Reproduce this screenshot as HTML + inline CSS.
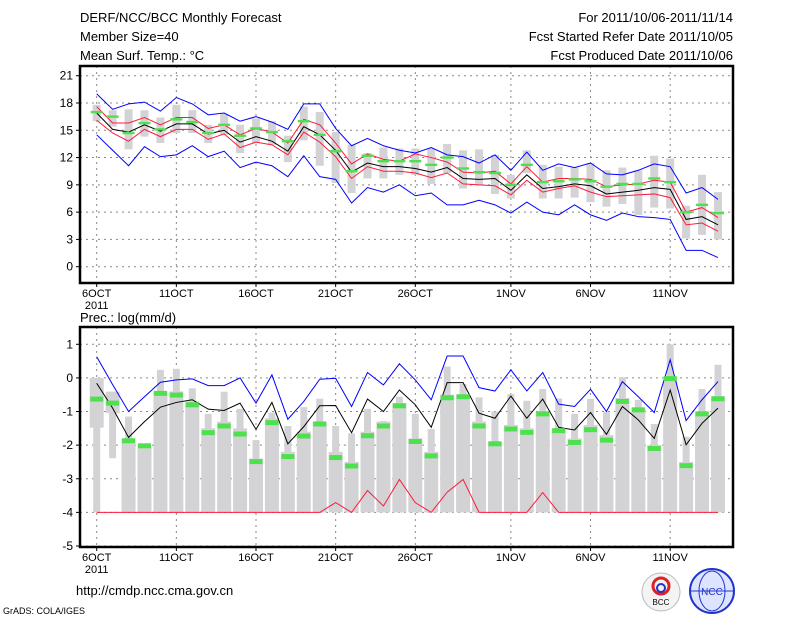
<!DOCTYPE html>
<html><head><meta charset="utf-8"><style>
body{margin:0;background:#fff;width:800px;height:618px;overflow:hidden}
svg text{font-family:"Liberation Sans",sans-serif;fill:#000}
</style></head><body>
<svg id="c" width="800" height="618" xmlns="http://www.w3.org/2000/svg">
<text x="80" y="22" font-size="13">DERF/NCC/BCC Monthly Forecast</text>
<text x="80" y="41" font-size="13">Member Size=40</text>
<text x="80" y="60" font-size="13">Mean Surf. Temp.: °C</text>
<text x="733" y="22" font-size="13" text-anchor="end">For 2011/10/06-2011/11/14</text>
<text x="733" y="41" font-size="13" text-anchor="end">Fcst Started Refer Date 2011/10/05</text>
<text x="733" y="60" font-size="13" text-anchor="end">Fcst Produced Date 2011/10/06</text>
<text x="80" y="322" font-size="13">Prec.: log(mm/d)</text>
<text x="76" y="595" font-size="13">http://cmdp.ncc.cma.gov.cn</text>
<text x="3" y="614" font-size="9">GrADS: COLA/IGES</text>
<g><circle cx="661" cy="592" r="19" fill="#f4f4f4" stroke="#bbb"/><circle cx="661" cy="586" r="8" fill="none" stroke="#d22" stroke-width="3"/><circle cx="661" cy="588" r="4" fill="none" stroke="#23c" stroke-width="2"/><text x="661" y="605" font-size="8" text-anchor="middle">BCC</text></g>
<g><circle cx="712" cy="591" r="22" fill="#dde4ff" stroke="#23c" stroke-width="2"/><ellipse cx="712" cy="591" rx="13" ry="20" fill="none" stroke="#23c"/><line x1="690" y1="591" x2="734" y2="591" stroke="#23c"/><text x="712" y="595" font-size="10" text-anchor="middle" style="fill:#23c">NCC</text></g>
</svg>
<script>
const days=40;
const xLabels=["6OCT","11OCT","16OCT","21OCT","26OCT","1NOV","6NOV","11NOV"];
const xLabelDays=[0,5,10,15,20,26,31,36];
// Temperature
const tBlueMax=[19.0,17.3,17.9,18.1,17.1,18.6,17.9,16.7,16.9,16.0,16.5,15.9,15.1,17.9,17.9,15.2,13.3,14.1,13.3,12.8,12.5,13.1,12.3,12.1,11.4,12.3,10.6,12.6,10.6,11.3,10.9,11.4,10.2,10.1,10.6,11.3,11.0,8.1,8.7,7.4];
const tBlueMin=[14.5,12.8,11.1,13.2,12.1,12.3,13.3,12.1,12.7,10.9,11.5,11.1,9.9,12.2,9.9,9.6,7.0,8.7,8.2,9.0,7.8,8.1,6.8,6.8,7.3,6.8,5.9,7.1,6.0,5.7,6.8,5.7,5.1,5.9,5.5,5.4,5.2,1.8,1.8,1.0];
const tRedUp=[17.6,15.8,15.8,16.4,15.6,16.4,16.4,15.2,15.6,14.5,15.2,14.8,13.6,16.2,15.6,13.6,11.3,12.4,11.8,11.6,12.4,12.0,11.5,10.4,10.3,10.5,9.1,11.0,9.3,9.7,9.7,9.6,8.8,9.0,9.1,9.5,9.3,6.0,6.5,5.4];
const tRedLo=[16.1,14.7,13.8,15.1,14.3,15.1,15.1,14.0,14.6,13.1,13.7,13.4,12.3,14.8,13.7,12.1,9.7,11.0,10.5,10.5,10.3,9.8,10.3,9.1,9.0,8.9,7.9,9.5,8.2,8.6,8.9,8.2,7.7,7.8,7.9,8.0,7.6,4.6,4.8,3.9];
const tMean=[16.9,15.1,14.8,15.6,14.9,15.7,15.7,14.6,15.0,13.7,14.3,13.8,12.7,15.4,14.5,12.8,10.4,11.4,11.0,11.0,10.8,10.4,10.9,9.7,9.6,9.7,8.4,10.1,8.6,8.8,9.1,8.9,8.0,8.2,8.4,8.7,8.5,5.2,5.5,4.6];
const tGreen=[17.0,16.5,14.7,15.8,15.1,16.2,15.9,14.7,15.6,14.4,15.2,14.8,13.8,16.0,14.5,12.7,10.5,12.2,11.6,11.6,11.6,11.2,12.0,10.8,10.4,10.3,9.0,11.2,9.3,9.4,9.6,9.4,8.8,9.1,9.1,9.7,9.3,6.0,6.8,5.9];
const tBarTop=[17.8,17.2,17.3,17.2,16.4,17.8,17.2,15.6,16.8,15.6,16.3,16.0,14.4,17.6,17.0,14.8,13.4,12.5,13.1,13.0,13.0,13.0,13.5,12.8,12.9,12.3,10.1,12.8,11.2,11.0,10.9,11.4,10.6,10.9,10.6,12.2,11.9,6.7,10.1,8.2];
const tBarBot=[16.0,15.4,12.9,14.3,13.6,14.7,14.7,13.6,14.5,12.5,13.6,13.4,11.5,13.9,11.1,9.2,8.1,9.7,9.7,10.1,10.1,9.1,10.3,8.6,9.0,8.0,7.5,10.3,7.5,7.5,7.6,7.1,6.6,6.9,5.7,6.5,6.4,3.1,3.5,3.0];
const tTicks=[0,3,6,9,12,15,18,21];
// Precipitation
const pBlue=[0.63,-0.2,-1.0,-0.56,-0.13,-0.06,-0.03,-0.23,-0.23,0.0,-0.75,0.09,-1.23,-0.7,-0.04,-0.01,-0.85,0.16,-0.21,0.42,-0.06,-0.65,0.65,0.65,-0.29,-0.39,0.24,-0.39,0.16,-0.78,-0.85,-0.34,-1.0,-0.11,-0.56,-1.03,0.54,-1.27,-0.65,-0.11];
const pMean=[-0.16,-0.9,-1.77,-1.3,-0.87,-0.73,-0.65,-0.93,-0.97,-0.75,-1.53,-0.73,-1.96,-1.45,-0.83,-0.82,-1.63,-0.63,-1.0,-0.36,-0.8,-1.47,-0.14,-0.14,-1.05,-1.2,-0.54,-1.2,-0.63,-1.47,-1.55,-1.03,-1.68,-0.85,-1.25,-1.8,-0.36,-1.99,-1.35,-0.9];
const pRed=[-4,-4,-4,-4,-4,-4,-4,-4,-4,-4,-4,-4,-4,-4,-4,-3.71,-4,-3.35,-3.81,-3.02,-3.71,-4,-3.4,-3.02,-4,-4,-4,-4,-3.41,-4,-4,-4,-4,-4,-4,-4,-4,-4,-4,-4];
const pGreen=[-0.63,-0.75,-1.87,-2.02,-0.46,-0.51,-0.8,-1.63,-1.43,-1.67,-2.49,-1.33,-2.34,-1.73,-1.37,-2.37,-2.62,-1.72,-1.43,-0.83,-1.89,-2.32,-0.59,-0.56,-1.43,-1.96,-1.52,-1.62,-1.07,-1.57,-1.92,-1.54,-1.85,-0.7,-0.95,-2.1,-0.02,-2.61,-1.07,-0.62];
const pWhiskTop=[0,-0.41,-1.15,-2.0,0.24,0.27,-0.31,-1.07,-0.41,-0.92,-1.85,-1.03,-1.43,-0.87,-0.62,-1.43,-1.65,-0.92,-1.28,-0.56,-1.07,-1.52,0.34,-0.18,-0.58,-1.0,-0.48,-0.68,-0.33,-0.61,-1.07,-0.63,-1.02,0.02,-0.65,-1.37,1.0,-1.75,-0.33,0.39];
const pBoxTop=[0,-0.41,-1.8,-2.0,-0.4,-0.4,-0.7,-1.5,-1.3,-1.5,-2.4,-1.2,-2.2,-1.6,-1.3,-2.2,-2.5,-1.6,-1.3,-0.75,-1.8,-2.2,-0.5,-0.5,-1.3,-1.9,-1.4,-1.5,-1.0,-1.5,-1.8,-1.4,-1.7,-0.6,-0.9,-2.0,0.0,-2.5,-1.0,-0.55];
const pBoxBot=[-1.48,-1.05,-4,-4,-4,-4,-4,-4,-4,-4,-4,-4,-4,-4,-4,-4,-4,-4,-4,-4,-4,-4,-4,-4,-4,-4,-4,-4,-4,-4,-4,-4,-4,-4,-4,-4,-4,-4,-4,-4];
const pWhiskBot=[-4,-2.39,-4,-4,-4,-4,-4,-4,-4,-4,-4,-4,-4,-4,-4,-4,-4,-4,-4,-4,-4,-4,-4,-4,-4,-4,-4,-4,-4,-4,-4,-4,-4,-4,-4,-4,-4,-4,-4,-4];
const pTicks=[1,0,-1,-2,-3,-4,-5];

const svg=document.getElementById('c');const NS='http://www.w3.org/2000/svg';
function mk(t,a,p){const e=document.createElementNS(NS,t);for(const k in a)e.setAttribute(k,a[k]);(p||svg).appendChild(e);return e;}
const X0=80,X1=733;
function xs(d){return 96.7+d*15.93;}
function group(name){
  const g=mk('g',{});
  
  
  return g;
}
const TG=group('temperature-panel');
const tys=v=>266.7-v*9.095;
const PG=group('precip-panel');
const pys=v=>377.9-v*33.62;

function grid(g,y0,y1,ticks,ys){
  ticks.forEach(t=>{const y=ys(t);
    const l=mk('line',{x1:X0,x2:X1,y1:y,y2:y,stroke:'#888','stroke-dasharray':'2,4'},g);
    
    
    const tk=mk('line',{x1:X0-4,x2:X0,y1:y,y2:y,stroke:'#000'},g);
    
    
    const tx=mk('text',{x:X0-7,y:y+4,'font-size':12,'text-anchor':'end'},g);tx.textContent=t;
    
    
  });
  xLabelDays.forEach((d,i)=>{const x=xs(d);
    const l=mk('line',{x1:x,x2:x,y1:y0,y2:y1,stroke:'#888','stroke-dasharray':'2,4'},g);
    
    
    const tk=mk('line',{x1:x,x2:x,y1:y1,y2:y1+4,stroke:'#000'},g);
    
    
    const tx=mk('text',{x:x,y:y1+14,'font-size':11,'text-anchor':'middle'},g);tx.textContent=xLabels[i];
    
    
  });
  const yr=mk('text',{x:xs(0),y:y1+26,'font-size':11,'text-anchor':'middle'},g);yr.textContent='2011';
  
  
}
function line(g,arr,ys,color,name){
  const pl=mk('polyline',{points:arr.map((v,i)=>xs(i)+','+ys(v)).join(' '),fill:'none',stroke:color,'stroke-width':1},g);
  
  
}
function rect(g,x,w,yA,yB,fill,name){
  const r=mk('rect',{x:x-w/2,y:Math.min(yA,yB),width:w,height:Math.max(Math.abs(yB-yA),0.5),fill:fill},g);
  
  
}
// Top
grid(TG,66,283,tTicks,tys);
for(let i=0;i<days;i++){rect(TG,xs(i),8,tys(tBarTop[i]),tys(tBarBot[i]),'#d3d3d6','temp-range-bar');}
line(TG,tBlueMax,tys,'#0000ff','temp-max-line');
line(TG,tBlueMin,tys,'#0000ff','temp-min-line');
line(TG,tRedUp,tys,'#ff1a3c','temp-upper-line');
line(TG,tRedLo,tys,'#ff1a3c','temp-lower-line');
line(TG,tMean,tys,'#000','temp-mean-line');
for(let i=0;i<days;i++){rect(TG,xs(i),12,tys(tGreen[i])-1.2,tys(tGreen[i])+1.2,'#4ee04e','temp-green-mark');}
const f1=mk('rect',{x:X0,y:66,width:X1-X0,height:217,fill:'none',stroke:'#000','stroke-width':2.5},TG);


// Bottom
grid(PG,327,547,pTicks,pys);
for(let i=0;i<days;i++){
  rect(PG,xs(i),7,pys(pWhiskTop[i]),pys(pWhiskBot[i]),'#d3d3d6','precip-whisker');
  rect(PG,xs(i),14,pys(pBoxTop[i]),pys(pBoxBot[i]),'#d3d3d6','precip-box');
}
line(PG,pBlue,pys,'#0000ff','precip-max-line');
line(PG,pMean,pys,'#000','precip-mean-line');
line(PG,pRed,pys,'#ff1a3c','precip-min-line');
for(let i=0;i<days;i++){rect(PG,xs(i),13,pys(pGreen[i])-2.5,pys(pGreen[i])+2.5,'#4ee04e','precip-green-mark');}
const f2=mk('rect',{x:X0,y:327,width:X1-X0,height:220,fill:'none',stroke:'#000','stroke-width':2.5},PG);


</script>
</body></html>
